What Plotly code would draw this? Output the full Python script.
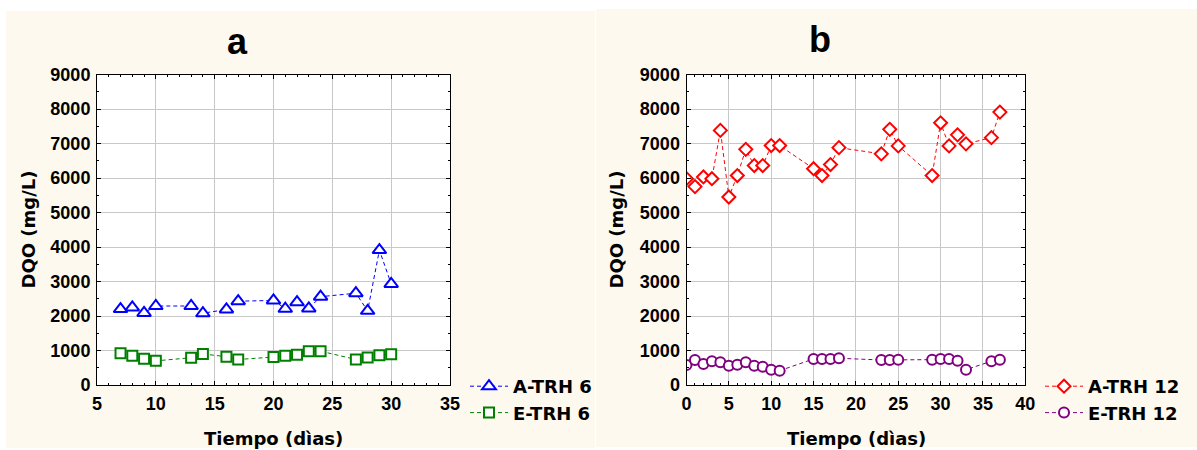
import plotly.graph_objects as go

# ---------------- data ----------------
days_a = [7, 8, 9, 10, 13, 14, 16, 17, 20, 21, 22, 23, 24, 27, 28, 29, 30]
a_trh6 = [2200, 2250, 2090, 2290, 2290, 2080, 2190, 2430, 2450, 2210, 2400, 2220, 2560, 2660, 2150, 3910, 2930]
e_trh6 = [920, 850, 760, 700, 790, 900, 820, 740, 810, 850, 880, 980, 980, 740, 800, 860, 890]

days_b = [0, 1, 2, 3, 4, 5, 6, 7, 8, 9, 10, 11, 15, 16, 17, 18, 23, 24, 25, 29, 30, 31, 32, 33, 36, 37]
a_trh12 = [5980, 5750, 6030, 5980, 7380, 5450, 6070, 6830, 6360, 6360, 6940, 6940, 6270, 6070, 6390, 6880,
           6700, 7410, 6930, 6070, 7600, 6930, 7250, 6990, 7170, 7910]
e_trh12 = [580, 725, 610, 690, 660, 560, 590, 660, 560, 530, 445, 415, 755, 755, 755, 775,
           725, 725, 735, 735, 755, 755, 705, 445, 690, 735]

x_title = "Tiempo (dìas)"
y_title = "DQO (mg/L)"

W, H = 1197, 450
FONT = "Liberation Sans, Arial, sans-serif"
WIDE = "DejaVu Sans, Liberation Sans, sans-serif"
CREAM = "#FEF9EE"


def px_x(p):
    return p / W


def px_y(p):
    return 1 - p / H


fig = go.Figure()

line_kw = dict(width=1, dash="4px,3px")


def add(x, y, name, color, symbol, size, xa, ya, legend):
    fig.add_trace(go.Scatter(
        x=x, y=y, name=name, mode="lines+markers",
        line=dict(color=color, **line_kw),
        marker=dict(symbol=symbol, size=size, color="white",
                    line=dict(color=color, width=2)),
        xaxis=xa, yaxis=ya, legend=legend,
    ))


add(days_a, a_trh6, "A-TRH 6", "#0000FF", "triangle-up", 12, "x", "y", "legend")
add(days_a, e_trh6, "E-TRH 6", "#008000", "square", 10, "x", "y", "legend")
add(days_b, a_trh12, "A-TRH 12", "#FF0000", "diamond", 10, "x2", "y2", "legend2")
add(days_b, e_trh12, "E-TRH 12", "#800080", "circle", 10, "x2", "y2", "legend2")

tickfont = dict(family=FONT, size=18, color="black", weight="bold")

common_axis = dict(
    showline=True, mirror="ticks", linecolor="black", linewidth=1,
    showgrid=True, gridcolor="#C8C8C8", gridwidth=1, zeroline=False,
    ticks="inside", ticklen=4, tickcolor="black", tickfont=tickfont,
    ticklabelstandoff=2, automargin=False,
)

yd = [px_y(385), px_y(74.5)]
legend_font = dict(family=WIDE, size=18, color="black", weight="bold")
fig.update_layout(
    template="none",
    width=W, height=H,
    margin=dict(l=0, r=0, t=0, b=0, pad=0, autoexpand=False),
    paper_bgcolor="white", plot_bgcolor="white",
    xaxis=dict(domain=[px_x(97), px_x(450)], range=[5, 35], dtick=5, anchor="y",
               minor=dict(ticks="inside", ticklen=2, dtick=1, tickcolor="black", showgrid=False),
               **common_axis),
    yaxis=dict(domain=yd, range=[0, 9000], dtick=1000, anchor="x",
               minor=dict(ticks="inside", ticklen=2, dtick=500, tickcolor="black", showgrid=False),
               **common_axis),
    xaxis2=dict(domain=[px_x(686.5), px_x(1025.3)], range=[0, 40], dtick=5, anchor="y2",
                minor=dict(ticks="inside", ticklen=2, dtick=1, tickcolor="black", showgrid=False),
                **common_axis),
    yaxis2=dict(domain=yd, range=[0, 9000], dtick=1000, anchor="x2",
                minor=dict(ticks="inside", ticklen=2, dtick=500, tickcolor="black", showgrid=False),
                **common_axis),
    legend=dict(x=px_x(465), y=px_y(368), xanchor="left", yanchor="top", itemwidth=38,
                bgcolor="rgba(0,0,0,0)", borderwidth=0, font=legend_font),
    legend2=dict(x=px_x(1040), y=px_y(368), xanchor="left", yanchor="top", itemwidth=38,
                 bgcolor="rgba(0,0,0,0)", borderwidth=0, font=legend_font),
    showlegend=True,
)

# cream panel backgrounds and white plot areas
shapes = [
    dict(type="rect", xref="paper", yref="paper", x0=px_x(6), x1=px_x(595), y0=px_y(448), y1=px_y(11),
         fillcolor=CREAM, line=dict(width=0), layer="below"),
    dict(type="rect", xref="paper", yref="paper", x0=px_x(596), x1=1, y0=px_y(447), y1=px_y(9),
         fillcolor=CREAM, line=dict(width=0), layer="below"),
    dict(type="rect", xref="x domain", yref="y domain", x0=0, x1=1, y0=0, y1=1,
         fillcolor="white", line=dict(width=0), layer="below"),
    dict(type="rect", xref="x2 domain", yref="y2 domain", x0=0, x1=1, y0=0, y1=1,
         fillcolor="white", line=dict(width=0), layer="below"),
]
fig.update_layout(shapes=shapes)

title_font = dict(family=WIDE, size=18, color="black", weight="bold")
big = dict(family=FONT, size=36, color="black", weight="bold")
annotations = [
    dict(text="a", x=px_x(237), y=px_y(41), font=big),
    dict(text="b", x=px_x(820), y=px_y(39), font=big),
    dict(text=x_title, x=px_x(273.5), y=px_y(438), font=title_font),
    dict(text=x_title, x=px_x(856), y=px_y(438), font=title_font),
    dict(text=y_title, x=px_x(28), y=px_y(229.5), textangle=-90, font=title_font),
    dict(text=y_title, x=px_x(616), y=px_y(229.5), textangle=-90, font=title_font),
]
for a in annotations:
    a.update(xref="paper", yref="paper", showarrow=False, xanchor="center", yanchor="middle")
fig.update_layout(annotations=annotations)

fig.write_html("out.html")
